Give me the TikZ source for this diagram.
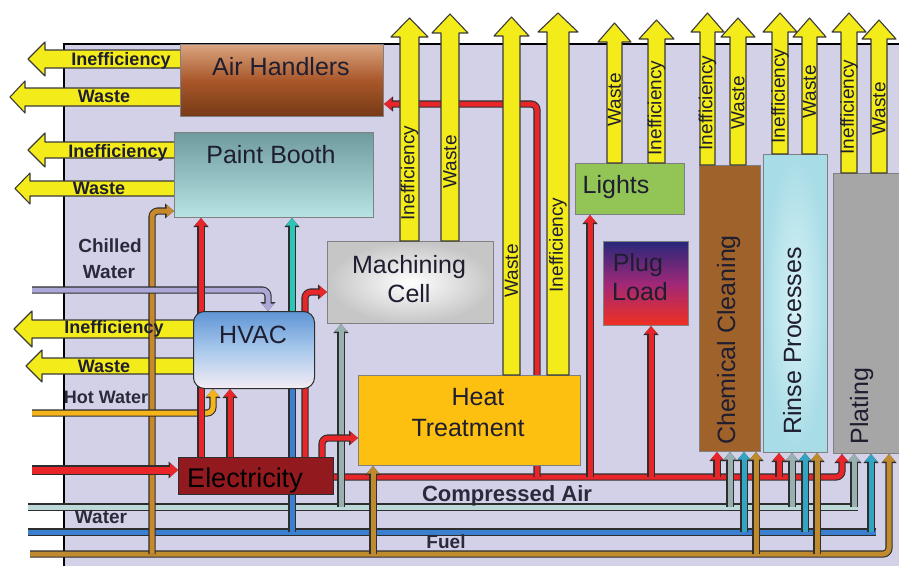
\documentclass[tikz,border=0pt]{standalone}
\usepackage{fontspec}
\setmainfont{Liberation Sans}
\usetikzlibrary{arrows.meta}
\definecolor{panel}{HTML}{D3D1E8}
\definecolor{yel}{HTML}{F4EC1A}
\definecolor{yedge}{HTML}{3A3A3A}
\definecolor{pipeedge}{HTML}{2E2E2E}
\definecolor{rpipe}{HTML}{E8262A}
\definecolor{chill}{HTML}{ABA8D8}
\definecolor{hotw}{HTML}{F5B41A}
\definecolor{brownp}{HTML}{C8882C}
\definecolor{tealp}{HTML}{2EC4B6}
\definecolor{bluep}{HTML}{3A7FD0}
\definecolor{cair}{HTML}{BCD8D8}
\definecolor{greyp}{HTML}{98B0B0}
\definecolor{fuelp}{HTML}{C08A2E}
\definecolor{boxedge}{HTML}{808080}
\definecolor{txt}{HTML}{1E1E30}
\definecolor{labtxt}{HTML}{2A2A3A}
\definecolor{ahtop}{HTML}{D9A47F}
\definecolor{ahmid}{HTML}{A9572A}
\definecolor{ahbot}{HTML}{773A16}
\definecolor{pbtop}{HTML}{6F9B9E}
\definecolor{pbbot}{HTML}{B8E4E6}
\definecolor{hvtop}{HTML}{5F95D5}
\definecolor{hvmid}{HTML}{A9C9EC}
\definecolor{hvbot}{HTML}{F4ECF4}
\definecolor{heatc}{HTML}{FDBF10}
\definecolor{elecc}{HTML}{921A1F}
\definecolor{lightc}{HTML}{92C556}
\definecolor{pltop}{HTML}{28287A}
\definecolor{plmid}{HTML}{A02878}
\definecolor{plbot}{HTML}{F03020}
\definecolor{chemc}{HTML}{A0622B}
\definecolor{rinsein}{HTML}{D8F2F6}
\definecolor{rinseout}{HTML}{A8DCE6}
\definecolor{platc}{HTML}{A6A6A6}
\tikzset{
  pipe/.style={draw=#1, line width=5pt, rounded corners=6pt, preaction={draw=pipeedge, line width=7.2pt}},
  apipe/.style={draw=#1, line width=5pt, rounded corners=6pt, -{Triangle[length=7.5pt,width=12pt]},
     preaction={draw=pipeedge, line width=7.2pt, -{Triangle[length=9pt,width=14.5pt]}}},
  fatpipe/.style={draw=#1, line width=7pt, rounded corners=6pt, -{Triangle[length=8pt,width=14pt]},
     preaction={draw=pipeedge, line width=9.2pt, -{Triangle[length=9.5pt,width=16.5pt]}}},
  yarr/.style={fill=yel, draw=yedge, line width=1.1pt, line join=round},
  box/.style={draw=boxedge, line width=1pt, inner sep=0pt, anchor=north west},
  boxtext/.style={font=\fontsize{25}{28}\selectfont, text=txt, anchor=base, inner sep=0pt},
  llab/.style={font=\bfseries\fontsize{18}{20}\selectfont, text=txt, anchor=base, inner sep=0pt},
  ulab/.style={font=\fontsize{19}{20}\selectfont, text=txt, rotate=90, inner sep=0pt},
  blab/.style={font=\bfseries\fontsize{19}{22}\selectfont, text=labtxt, anchor=base, inner sep=0pt},
}
\newcommand{\uarrow}[4]{\filldraw[yarr] (#1,#3) -- (#1,{#4+19}) -- ({#1-9},{#4+19}) -- ({(#1+#2)/2},#4) -- ({#2+9},{#4+19}) -- (#2,{#4+19}) -- (#2,#3) -- cycle;}
\newcommand{\larrow}[6]{\filldraw[yarr] (#1,#2) -- (#4,#2) -- (#4,{#2-#6}) -- (#5,{(#2+#3)/2}) -- (#4,{#3+#6}) -- (#4,#3) -- (#1,#3) -- cycle;}
\begin{document}
\begin{tikzpicture}[x=1pt,y=-1pt]
\useasboundingbox (0,0) rectangle (899,565);
% panel
\filldraw[fill=panel, draw=black, line width=1.2pt] (64,44) rectangle (910,575);

% left yellow arrows
\larrow{185}{50}{68}{45}{28}{8}
\larrow{185}{88}{106}{25}{10}{7}
\larrow{179}{142}{158}{45}{28}{9}
\larrow{179}{181}{196}{30}{15}{8}
\larrow{205}{320}{338}{32}{14}{9}
\larrow{205}{358}{374}{42}{26}{8}

% bus coordinates
\coordinate (ca0) at (28,507); \coordinate (ca1) at (858,507);
\coordinate (w0) at (28,532);  \coordinate (w1) at (876,532);
\coordinate (f0) at (30,554);  \coordinate (f1) at (889,554);
\coordinate (r1) at (842,477);
\coordinate (rin) at (32,470);
\coordinate (chin) at (32,290);
\coordinate (hwin) at (32,413);

% horizontal buses
\draw[pipe=cair] (ca0) -- (ca1);
\draw[pipe=bluep] (w0) -- (w1);

% invisible box frames for anchors
\path
 node[box, draw=none, minimum width=203pt, minimum height=72pt] (air) at (180,44) {}
 node[box, draw=none, minimum width=199pt, minimum height=85pt] (paint) at (174,132) {}
 node[box, draw=none, minimum width=166pt, minimum height=82pt] (mach) at (327,241) {}
 node[box, draw=none, minimum width=121pt, minimum height=77pt] (hvac) at (193,311) {}
 node[box, draw=none, minimum width=222pt, minimum height=90pt] (heat) at (358,375) {}
 node[box, draw=none, minimum width=155pt, minimum height=37pt] (elec) at (178,457) {}
 node[box, draw=none, minimum width=109pt, minimum height=51pt] (lights) at (575,163) {}
 node[box, draw=none, minimum width=85pt, minimum height=84pt] (plug) at (603,241) {}
 node[box, draw=none, minimum width=61pt, minimum height=286pt] (chem) at (699,165) {}
 node[box, draw=none, minimum width=64pt, minimum height=298pt] (rinse) at (763,154) {}
 node[box, draw=none, minimum width=70pt, minimum height=280pt] (plat) at (833,173) {};

% red bus and fuel bus
\draw[apipe=rpipe] (elec.east |- r1) -- (r1) -- (842,0 |- plat.south);
\draw[apipe=fuelp] (f0) -- (f1) -- (889,0 |- plat.south);

% red verticals from bus
\draw[apipe=rpipe] (537,0 |- r1) -- (537,104) -- (air.east |- 0,104);
\draw[apipe=rpipe] (590,0 |- r1) -- (590,0 |- lights.south);
\draw[apipe=rpipe] (651,0 |- r1) -- (651,0 |- plug.south);
\draw[apipe=rpipe] (717,0 |- r1) -- (717,0 |- chem.south);
\draw[apipe=rpipe] (779,0 |- r1) -- (779,0 |- rinse.south);

% compressed air verticals
\draw[apipe=greyp] (341,0 |- ca1) -- (341,0 |- mach.south);
\draw[apipe=greyp] (730,0 |- ca1) -- (730,0 |- chem.south);
\draw[apipe=greyp] (792,0 |- ca1) -- (792,0 |- rinse.south);
\draw[apipe=greyp] (854,0 |- ca1) -- (854,0 |- plat.south);

% water verticals
\draw[pipe=bluep] (292,0 |- w1) -- (292,0 |- hvac.south);
\draw[apipe=tealp!55!bluep] (744,0 |- w1) -- (744,0 |- chem.south);
\draw[apipe=tealp!55!bluep] (805,0 |- w1) -- (805,0 |- rinse.south);
\draw[apipe=tealp!55!bluep] (871,0 |- w1) -- (871,0 |- plat.south);

% fuel verticals
\draw[apipe=fuelp] (373,0 |- f1) -- (373,0 |- heat.south);
\draw[apipe=fuelp] (756,0 |- f1) -- (756,0 |- chem.south);
\draw[apipe=fuelp] (817,0 |- f1) -- (817,0 |- rinse.south);
\draw[apipe=brownp] (152,0 |- f1) -- (152,211) -- (paint.west |- 0,211);

% chilled water, hot water, electricity in
\draw[apipe=chill] (chin) -- (268,290) -- (268,0 |- hvac.north);
\draw[apipe=hotw] (hwin) -- (213,413) -- (213,0 |- hvac.south);
\draw[fatpipe=rpipe] (rin) -- (elec.west |- rin);

% red from electricity
\draw[apipe=rpipe] (201,0 |- elec.north) -- (201,0 |- paint.south);
\draw[apipe=rpipe] (230,0 |- elec.north) -- (230,0 |- hvac.south);
\draw[apipe=rpipe] (305,0 |- elec.north) -- (305,292) -- (mach.west |- 0,292);
\draw[apipe=rpipe] (322,0 |- elec.north) -- (322,438) -- (heat.west |- 0,438);
\draw[apipe=tealp] (292,0 |- hvac.north) -- (292,0 |- paint.south);

% boxes drawn
\node[box, top color=ahtop, bottom color=ahbot, middle color=ahmid, minimum width=203pt, minimum height=72pt] (airb) at (180,44) {};
\node[box, top color=pbtop, bottom color=pbbot, minimum width=199pt, minimum height=85pt] (paintb) at (174,132) {};
\node[box, inner color=white, outer color=gray!45, minimum width=166pt, minimum height=82pt] (machb) at (327,241) {};
\node[box, draw=pipeedge, rounded corners=11pt, top color=hvtop, bottom color=hvbot, middle color=hvmid, minimum width=121pt, minimum height=77pt] (hvacb) at (193,311) {};
\node[box, fill=heatc, minimum width=222pt, minimum height=90pt] (heatb) at (358,375) {};
\node[box, draw=pipeedge, fill=elecc, minimum width=155pt, minimum height=37pt] (elecb) at (178,457) {};
\node[box, fill=lightc, minimum width=109pt, minimum height=51pt] (lightsb) at (575,163) {};
\node[box, top color=pltop, bottom color=plbot, middle color=plmid, minimum width=85pt, minimum height=84pt] (plugb) at (603,241) {};
\node[box, fill=chemc, minimum width=61pt, minimum height=286pt] (chemb) at (699,165) {};
\node[box, inner color=rinsein, outer color=rinseout, minimum width=64pt, minimum height=298pt] (rinseb) at (763,154) {};
\node[box, fill=platc, minimum width=70pt, minimum height=280pt] (platb) at (833,173) {};

% up arrows
\uarrow{400}{419}{241}{18}
\uarrow{441}{459}{241}{14}
\uarrow{503}{520}{375}{17}
\uarrow{547}{569}{375}{13}
\uarrow{607}{622}{163}{23}
\uarrow{648}{665}{163}{20}
\uarrow{700}{715}{165}{13}
\uarrow{730}{746}{165}{18}
\uarrow{772}{788}{154}{13}
\uarrow{802}{817}{154}{18}
\uarrow{841}{857}{173}{13}
\uarrow{871}{887}{173}{20}

% box texts
\node[boxtext] (tair) at (281,75) {Air Handlers};
\node[boxtext] (tpaint) at (271,163) {Paint Booth};
\node[boxtext] (tmach1) at (409,273) {Machining};
\node[boxtext] (tmach2) at (409,302) {Cell};
\node[boxtext] (thvac) at (253,343) {HVAC};
\node[boxtext] (theat1) at (478,405) {Heat};
\node[boxtext] (theat2) at (468,436) {Treatment};
\node[boxtext, font=\fontsize{27}{30}\selectfont, text=black] (telec) at (245,487) {Electricity};
\node[boxtext] (tlights) at (616,193) {Lights};
\node[boxtext] (tplug1) at (638,271) {Plug};
\node[boxtext] (tplug2) at (640,300) {Load};
\node[boxtext, rotate=90] (tchem) at (735,340) {Chemical Cleaning};
\node[boxtext, rotate=90] (trinse) at (801,341) {Rinse Processes};
\node[boxtext, rotate=90] (tplat) at (868,406) {Plating};

% left arrow labels
\node[llab] (la1) at (121,65) {Inefficiency};
\node[llab] (la2) at (104,102) {Waste};
\node[llab] (la3) at (118,157) {Inefficiency};
\node[llab] (la4) at (99,194) {Waste};
\node[llab] (la5) at (114,333) {Inefficiency};
\node[llab] (la6) at (104,372) {Waste};

% up arrow labels
\node[ulab] (ua1) at (409.5,173) {Inefficiency};
\node[ulab] (ua2) at (450,162) {Waste};
\node[ulab] (ua3) at (511.5,271) {Waste};
\node[ulab] (ua4) at (558,245) {Inefficiency};
\node[ulab] (ua5) at (614.5,100) {Waste};
\node[ulab] (ua6) at (656.5,108) {Inefficiency};
\node[ulab] (ua7) at (707.5,103) {Inefficiency};
\node[ulab] (ua8) at (738,103) {Waste};
\node[ulab] (ua9) at (780,96) {Inefficiency};
\node[ulab] (ua10) at (809.5,92) {Waste};
\node[ulab] (ua11) at (849,107) {Inefficiency};
\node[ulab] (ua12) at (879,109) {Waste};

% supply labels
\node[blab] (lch1) at (110,252) {Chilled};
\node[blab] (lch2) at (109,278) {Water};
\node[blab, font=\bfseries\fontsize{18}{20}\selectfont] (lhw) at (106,403) {Hot Water};
\node[blab, font=\bfseries\fontsize{22}{24}\selectfont] (lca) at (507,501) {Compressed Air};
\node[blab] (lw) at (101,523) {Water};
\node[blab] (lf) at (446,548) {Fuel};
\end{tikzpicture}
\end{document}
